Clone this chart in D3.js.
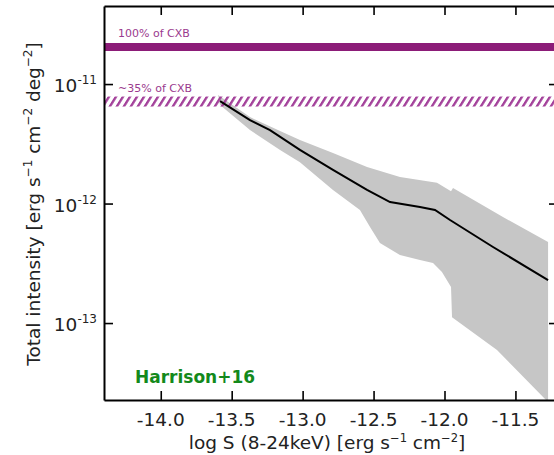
<!DOCTYPE html>
<html>
<head>
<meta charset="utf-8">
<script src="https://cdn.jsdelivr.net/npm/d3@7"></script>
<style>
  body { margin: 0; background: #fff; }
  svg { display: block; }
</style>
</head>
<body>
<svg id="chart"></svg>
<script>
// median total intensity (black line)
const lineLogS = [-13.582, -13.371, -13.230, -13.019, -12.786, -12.546, -12.384, -12.173, -12.067, -11.961, -11.658, -11.270];
const lineI = [7.21e-12, 5.00e-12, 4.12e-12, 2.81e-12, 1.91e-12, 1.30e-12, 1.03e-12, 9.35e-13, 8.83e-13, 7.28e-13, 4.33e-13, 2.29e-13];

// grey range, upper edge
const upperLogS = [-13.596, -13.371, -13.159, -13.019, -12.786, -12.546, -12.314, -12.053, -11.954, -11.940, -11.588, -11.270];
const upperI = [8.09e-12, 5.29e-12, 4.04e-12, 3.40e-12, 2.65e-12, 2.02e-12, 1.67e-12, 1.49e-12, 1.27e-12, 1.35e-12, 7.71e-13, 4.76e-13];

// grey range, lower edge
const lowerLogS = [-13.582, -13.371, -13.159, -13.019, -12.786, -12.596, -12.525, -12.455, -12.314, -12.173, -12.081, -12.018, -11.954, -11.947, -11.630, -11.270];
const lowerI = [6.67e-12, 4.12e-12, 2.81e-12, 2.22e-12, 1.30e-12, 8.83e-13, 6.35e-13, 4.67e-13, 3.71e-13, 3.37e-13, 3.18e-13, 2.67e-13, 2.00e-13, 1.12e-13, 5.94e-14, 2.18e-14];

// CXB reference levels
const cxbTotal = 2.04e-11;
const cxbFraction = 0.35;

const xTicks = [-14.0, -13.5, -13.0, -12.5, -12.0, -11.5];
const yTicks = [1e-11, 1e-12, 1e-13];
const yTickExp = ["-11", "-12", "-13"];

const W = 554, H = 455;
const m = { left: 104, right: 558, top: 6, bottom: 400 };

const svg = d3.select("#chart").attr("width", W).attr("height", H);

const x = d3.scaleLinear().domain([-14.4, -11.2]).range([m.left, m.right]);
const y = d3.scaleLog().domain([2.27e-14, 4.5e-11]).range([m.bottom, m.top]);

const purple = "#8c1c78";
const font = "DejaVu Sans";

const defs = svg.append("defs");
defs.append("clipPath").attr("id", "plot")
    .append("rect")
    .attr("x", m.left).attr("y", m.top)
    .attr("width", m.right - m.left).attr("height", m.bottom - m.top);

const hatch = defs.append("pattern")
    .attr("id", "hatch")
    .attr("patternUnits", "userSpaceOnUse")
    .attr("width", 7).attr("height", 200)
    .attr("patternTransform", "skewX(-32)");
hatch.append("rect")
    .attr("x", 0).attr("y", 0)
    .attr("width", 2.8).attr("height", 200)
    .attr("fill", "#a3409a");

const plot = svg.append("g").attr("clip-path", "url(#plot)");

// grey range
const band = upperLogS.map((v, i) => [v, upperI[i]])
    .concat(lowerLogS.map((v, i) => [v, lowerI[i]]).reverse());

plot.append("path")
    .attr("d", d3.line().x(d => x(d[0])).y(d => y(d[1]))(band) + "Z")
    .attr("fill", "#c6c6c6");

// 100% CXB
plot.append("line")
    .attr("x1", m.left).attr("x2", m.right)
    .attr("y1", y(cxbTotal)).attr("y2", y(cxbTotal))
    .attr("stroke", purple)
    .attr("stroke-width", 8);

// ~35% CXB, hatched
const y35 = y(cxbTotal * cxbFraction);
plot.append("rect")
    .attr("x", m.left).attr("y", y35 - 5)
    .attr("width", m.right - m.left).attr("height", 10)
    .attr("fill", "url(#hatch)");

// median line
plot.append("path")
    .datum(lineLogS.map((v, i) => [v, lineI[i]]))
    .attr("d", d3.line().x(d => x(d[0])).y(d => y(d[1])))
    .attr("fill", "none")
    .attr("stroke", "#000")
    .attr("stroke-width", 2);

svg.append("text")
    .attr("x", 118).attr("y", 37)
    .attr("font-family", font).attr("font-size", 11)
    .attr("fill", "#9a3a8e")
    .text("100% of CXB");

svg.append("text")
    .attr("x", 118).attr("y", 92)
    .attr("font-family", font).attr("font-size", 11)
    .attr("fill", "#9a3a8e")
    .text("~35% of CXB");

// axes: ticks point inward on all four sides
const xMinor = d3.range(-14.3, -11.2, 0.1).map(v => +v.toFixed(1)).filter(v => !xTicks.includes(v));
const yMinor = [];
[-14, -13, -12, -11].forEach(e => {
    for (let k = 2; k <= 9; k++) {
        const v = k * Math.pow(10, e);
        if (v >= 2.27e-14 && v <= 4.5e-11) yMinor.push(v);
    }
});

function drawAxis(axisFn, scale, major, minor, transform) {
    const g = svg.append("g").attr("transform", transform);
    g.call(axisFn(scale).tickValues(minor).tickSizeInner(-5).tickSizeOuter(0).tickFormat(""));
    g.call(axisFn(scale).tickValues(major).tickSizeInner(-9).tickSizeOuter(0).tickFormat(""));
    g.selectAll(".domain").attr("stroke", "#000").attr("stroke-width", 2);
    g.selectAll(".tick line").attr("stroke", "#000").attr("stroke-width", 1.6);
    return g;
}

drawAxis(d3.axisBottom, x, xTicks, xMinor, `translate(0,${m.bottom})`);
drawAxis(d3.axisTop, x, xTicks, xMinor, `translate(0,${m.top})`);
drawAxis(d3.axisLeft, y, yTicks, yMinor, `translate(${m.left},0)`);
drawAxis(d3.axisRight, y, yTicks, yMinor, `translate(${m.right},0)`);

// x tick labels
svg.append("g").selectAll("text")
    .data(xTicks)
    .enter().append("text")
    .attr("x", d => x(d))
    .attr("y", 426)
    .attr("text-anchor", "middle")
    .attr("font-family", font).attr("font-size", 18.5)
    .attr("fill", "#222")
    .text(d => d.toFixed(1));

// y tick labels with superscript exponent
const yLab = svg.append("g").selectAll("text")
    .data(yTicks)
    .enter().append("text")
    .attr("x", 97)
    .attr("y", d => y(d) + 8)
    .attr("text-anchor", "end")
    .attr("font-family", font).attr("font-size", 18.5)
    .attr("fill", "#222");
yLab.append("tspan").text("10");
yLab.append("tspan")
    .attr("dy", -8)
    .attr("font-size", 12)
    .text((d, i) => yTickExp[i]);

// axis titles
const xt = svg.append("text")
    .attr("x", 327).attr("y", 449)
    .attr("text-anchor", "middle")
    .attr("font-family", font).attr("font-size", 18.5)
    .attr("fill", "#222");
xt.append("tspan").text("log S (8-24keV) [erg s");
xt.append("tspan").attr("dy", -7).attr("font-size", 11.5).text("\u22121");
xt.append("tspan").attr("dy", 7).text(" cm");
xt.append("tspan").attr("dy", -7).attr("font-size", 11.5).text("\u22122");
xt.append("tspan").attr("dy", 7).text("]");

const yt = svg.append("text")
    .attr("transform", "translate(40,204) rotate(-90)")
    .attr("text-anchor", "middle")
    .attr("font-family", font).attr("font-size", 18.5)
    .attr("fill", "#222");
yt.append("tspan").text("Total intensity [erg s");
yt.append("tspan").attr("dy", -8).attr("font-size", 12).text("\u22121");
yt.append("tspan").attr("dy", 8).text(" cm");
yt.append("tspan").attr("dy", -8).attr("font-size", 12).text("\u22122");
yt.append("tspan").attr("dy", 8).text(" deg");
yt.append("tspan").attr("dy", -8).attr("font-size", 12).text("\u22122");
yt.append("tspan").attr("dy", 8).text("]");

svg.append("text")
    .attr("x", 135).attr("y", 383)
    .attr("font-family", font).attr("font-size", 17)
    .attr("font-weight", "bold")
    .attr("fill", "#13891b")
    .text("Harrison+16");
</script>
</body>
</html>
